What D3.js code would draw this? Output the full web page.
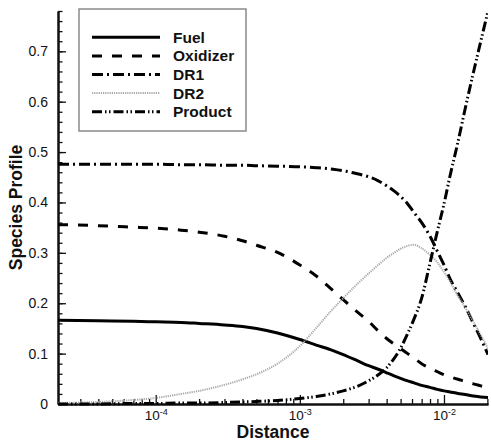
<!DOCTYPE html>
<html>
<head>
<meta charset="utf-8">
<script src="https://cdn.jsdelivr.net/npm/d3@7"></script>
<style>
    body { margin: 0; background: #fff; }
    text { font-family: "Liberation Sans", Arial, sans-serif; fill: #111; }
    .label { font-weight: bold; font-size: 17.5px; }
    .legend text { font-weight: bold; font-size: 15.5px; }
</style>
</head>
<body>
<svg width="491" height="441"></svg>
<script>
// distance grid (log spaced), shared by all species
var distance = [2.1e-5, 4e-5, 7e-5, 1e-4, 1.5e-4, 2e-4, 3e-4, 4e-4, 5e-4, 7e-4,
    1e-3, 1.3e-3, 1.7e-3, 2e-3, 2.5e-3, 3e-3, 3.5e-3, 4e-3, 4.5e-3, 5e-3,
    5.6e-3, 6.2e-3, 7e-3, 8e-3, 9e-3, 1e-2, 1.1e-2, 1.25e-2, 1.4e-2, 1.6e-2, 1.8e-2, 2.02e-2];

var fuel = [0.166, 0.165, 0.164, 0.163, 0.162, 0.160, 0.157, 0.154, 0.150, 0.141,
    0.128, 0.117, 0.106, 0.098, 0.086, 0.076, 0.069, 0.062, 0.056, 0.051,
    0.046, 0.042, 0.037, 0.033, 0.029, 0.026, 0.024, 0.021, 0.019, 0.016, 0.014, 0.013];

var oxidizer = [0.356, 0.354, 0.351, 0.349, 0.345, 0.341, 0.333, 0.324, 0.315, 0.301,
    0.276, 0.254, 0.225, 0.207, 0.183, 0.164, 0.145, 0.130, 0.119, 0.110,
    0.100, 0.091, 0.080, 0.071, 0.064, 0.058, 0.054, 0.049, 0.045, 0.040, 0.036, 0.032];

var dr1 = [0.476, 0.476, 0.476, 0.476, 0.475, 0.475, 0.474, 0.474, 0.473, 0.472,
    0.471, 0.469, 0.466, 0.463, 0.457, 0.451, 0.443, 0.433, 0.423, 0.412,
    0.397, 0.380, 0.360, 0.333, 0.303, 0.276, 0.249, 0.220, 0.194, 0.160, 0.130, 0.098];

var dr2 = [0.002, 0.004, 0.008, 0.012, 0.020, 0.026, 0.038, 0.049, 0.059, 0.080,
    0.115, 0.151, 0.189, 0.210, 0.238, 0.259, 0.276, 0.290, 0.300, 0.308,
    0.314, 0.316, 0.309, 0.296, 0.281, 0.262, 0.243, 0.215, 0.192, 0.163, 0.137, 0.110];

var product = [0.000, 0.000, 0.001, 0.001, 0.002, 0.002, 0.003, 0.004, 0.005, 0.007,
    0.011, 0.015, 0.021, 0.026, 0.035, 0.046, 0.058, 0.072, 0.090, 0.111,
    0.140, 0.169, 0.210, 0.280, 0.343, 0.397, 0.452, 0.520, 0.585, 0.658, 0.720, 0.780];

var seriesNames = ['Fuel', 'Oxidizer', 'DR1', 'DR2', 'Product'];
var seriesValues = [fuel, oxidizer, dr1, dr2, product];

var yMajor = [0, 0.1, 0.2, 0.3, 0.4, 0.5, 0.6, 0.7];
var xMajor = [1e-4, 1e-3, 1e-2];
var xMajorExp = ['-4', '-3', '-2'];

var styles = {
    'Fuel':     { color: '#000', width: 3, dash: null },
    'Oxidizer': { color: '#000', width: 3, dash: '10,10' },
    'DR1':      { color: '#000', width: 3, dash: '11,4,2,4' },
    'DR2':      { color: '#a8a8a8', width: 2, dash: '1.2,1' },
    'Product':  { color: '#000', width: 3, dash: '10,3,1.5,2.5,1.5,3' }
};

let drawChart = () => {
    var svg = d3.select('svg');
    var left = 58, right = 488, top = 11, bottom = 404;

    var xScale = d3.scaleLog()
        .domain([2.1e-5, 2.02e-2])
        .range([left, right]);

    var yScale = d3.scaleLinear()
        .domain([0, 0.78])
        .range([bottom, top]);

    // minor ticks
    var yMinor = d3.range(0, 0.781, 0.02).map(d => +d.toFixed(2));
    var xMinor = [];
    [1e-5, 1e-4, 1e-3, 1e-2].forEach(function(dec) {
        for (var k = 2; k <= 9; k++) {
            var v = k * dec;
            if (v >= 2.1e-5 && v <= 2.02e-2) xMinor.push(v);
        }
    });

    svg.append('g')
        .attr('class', 'y minor')
        .attr('transform', 'translate(' + left + ',0)')
        .call(d3.axisLeft(yScale).tickValues(yMinor).tickSize(-4.5).tickSizeOuter(0).tickFormat(''));

    var yAxis = svg.append('g')
        .attr('class', 'y axis')
        .attr('transform', 'translate(' + left + ',0)')
        .call(d3.axisLeft(yScale).tickValues(yMajor).tickSize(-8).tickSizeOuter(0).tickPadding(10)
            .tickFormat(d => d === 0 ? '0' : d3.format('.1f')(d)));
    yAxis.selectAll('text').style('font-size', '14px');

    svg.append('g')
        .attr('class', 'x minor')
        .attr('transform', 'translate(0,' + bottom + ')')
        .call(d3.axisBottom(xScale).tickValues(xMinor).tickSize(-5).tickSizeOuter(0).tickFormat(''));

    var xAxis = svg.append('g')
        .attr('class', 'x axis')
        .attr('transform', 'translate(0,' + bottom + ')')
        .call(d3.axisBottom(xScale).tickValues(xMajor).tickSize(-9).tickSizeOuter(0).tickPadding(6)
            .tickFormat(''));
    xAxis.selectAll('.tick text')
        .style('font-size', '13.5px')
        .each(function(d, i) {
            var t = d3.select(this);
            t.append('tspan').text('10');
            t.append('tspan').attr('dy', '-5').style('font-size', '9px').text(xMajorExp[i]);
        });

    svg.selectAll('.axis path, .minor path').attr('stroke-width', 2).attr('stroke', '#111');
    svg.selectAll('.tick line').attr('stroke-width', 1.3).attr('stroke', '#111');

    svg.append('text')
        .attr('class', 'label')
        .attr('text-anchor', 'middle')
        .attr('transform', 'translate(22,' + ((top + bottom) / 2) + ') rotate(-90)')
        .text('Species Profile');

    svg.append('text')
        .attr('class', 'label')
        .attr('text-anchor', 'middle')
        .attr('x', (left + right) / 2)
        .attr('y', 438)
        .text('Distance');

    // curves
    svg.append('clipPath').attr('id', 'plot-clip')
        .append('rect')
        .attr('x', left).attr('y', top - 2)
        .attr('width', right - left).attr('height', bottom - top + 4);

    var line = d3.line()
        .x(d => xScale(d[0]))
        .y(d => yScale(d[1]))
        .curve(d3.curveMonotoneX);

    var series = seriesNames.map(function(name, i) {
        return { name: name, points: distance.map((x, j) => [x, seriesValues[i][j]]) };
    });

    svg.append('g')
        .attr('clip-path', 'url(#plot-clip)')
        .selectAll('path')
        .data(series)
        .enter()
        .append('path')
            .attr('fill', 'none')
            .attr('d', d => line(d.points))
            .attr('stroke', d => styles[d.name].color)
            .attr('stroke-width', d => styles[d.name].width)
            .attr('stroke-dasharray', d => styles[d.name].dash);

    // legend
    var legend = svg.append('g').attr('class', 'legend');
    legend.append('rect')
        .attr('x', 79).attr('y', 9)
        .attr('width', 167).attr('height', 122)
        .attr('fill', '#fff')
        .attr('stroke', '#8a8a8a')
        .attr('stroke-width', 1.5);

    var rows = legend.selectAll('g.row')
        .data(seriesNames)
        .enter()
        .append('g')
        .attr('class', 'row')
        .attr('transform', (d, i) => 'translate(0,' + (37.3 + i * 18.6) + ')');

    rows.append('line')
        .attr('x1', 92).attr('x2', 160)
        .attr('y1', 0).attr('y2', 0)
        .attr('stroke', d => styles[d].color)
        .attr('stroke-width', d => styles[d].width)
        .attr('stroke-dasharray', d => styles[d].dash);

    rows.append('text')
        .attr('x', 173)
        .attr('dy', '0.36em')
        .text(d => d);
}

drawChart();
</script>
</body>
</html>
